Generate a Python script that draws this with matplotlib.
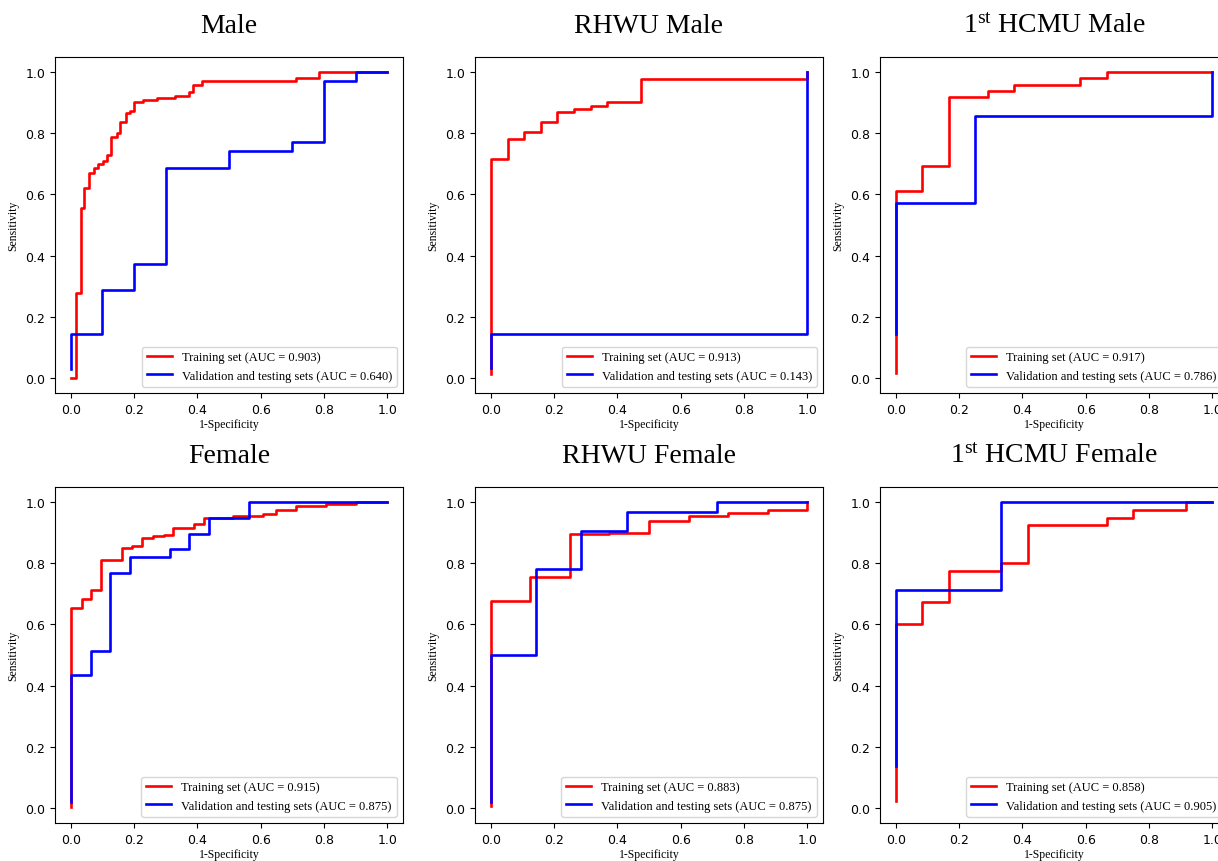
from matplotlib import pyplot as plt

plt.rcParams['mathtext.fontset'] = 'custom'
plt.rcParams['mathtext.rm'] = 'Liberation Serif'
plt.rcParams['mathtext.it'] = 'Liberation Serif:italic'

SERIF = 'Liberation Serif'

titles = ['Male', 'RHWU Male', r'1$^{\mathrm{st}}$ HCMU Male',
          'Female', 'RHWU Female', r'1$^{\mathrm{st}}$ HCMU Female']

# ROC corner points (step, where='post')
male_train_fpr = [0, 0.016, 0.031, 0.043, 0.058, 0.072, 0.086, 0.102, 0.115, 0.128, 0.145, 0.157,
                  0.173, 0.188, 0.2, 0.229, 0.271, 0.329, 0.372, 0.385, 0.414, 0.713, 0.785, 1.0]
male_train_tpr = [0, 0.279, 0.557, 0.622, 0.671, 0.688, 0.701, 0.709, 0.728, 0.787, 0.801, 0.837,
                  0.866, 0.874, 0.902, 0.908, 0.915, 0.923, 0.937, 0.959, 0.973, 0.98, 1.0, 1.0]
male_val_fpr = [0, 0, 0.1, 0.2, 0.3, 0.5, 0.7, 0.8, 0.9, 1.0]
male_val_tpr = [0.029, 0.143, 0.286, 0.371, 0.686, 0.743, 0.771, 0.971, 1.0, 1.0]

rhwu_male_train_fpr = [0, 0, 0.053, 0.105, 0.158, 0.21, 0.263, 0.316, 0.368, 0.474, 1.0]
rhwu_male_train_tpr = [0.011, 0.715, 0.782, 0.803, 0.836, 0.87, 0.879, 0.891, 0.903, 0.979, 1.0]
rhwu_male_val_fpr = [0, 0, 1.0]
rhwu_male_val_tpr = [0.033, 0.143, 1.0]

hcmu_male_train_fpr = [0, 0, 0.083, 0.167, 0.292, 0.375, 0.583, 0.667, 1.0]
hcmu_male_train_tpr = [0.016, 0.612, 0.694, 0.918, 0.939, 0.959, 0.98, 1.0, 1.0]
hcmu_male_val_fpr = [0, 0, 0.25, 1.0]
hcmu_male_val_tpr = [0.143, 0.571, 0.857, 1.0]

female_train_fpr = [0, 0, 0.034, 0.065, 0.095, 0.163, 0.193, 0.226, 0.259, 0.294, 0.324, 0.388,
                    0.421, 0.514, 0.609, 0.647, 0.712, 0.808, 0.903, 1.0]
female_train_tpr = [0.003, 0.655, 0.682, 0.714, 0.812, 0.85, 0.858, 0.883, 0.89, 0.893, 0.915, 0.929,
                    0.949, 0.954, 0.962, 0.975, 0.987, 0.995, 1.0, 1.0]
female_val_fpr = [0, 0, 0.0625, 0.125, 0.1875, 0.3125, 0.375, 0.4375, 0.5625, 1.0]
female_val_tpr = [0.02, 0.436, 0.513, 0.769, 0.821, 0.846, 0.897, 0.949, 1.0, 1.0]

rhwu_female_train_fpr = [0, 0, 0.125, 0.25, 0.375, 0.5, 0.625, 0.75, 0.875, 1.0]
rhwu_female_train_tpr = [0.007, 0.676, 0.755, 0.896, 0.9, 0.938, 0.954, 0.965, 0.974, 1.0]
rhwu_female_val_fpr = [0, 0, 0.143, 0.286, 0.429, 0.714, 1.0]
rhwu_female_val_tpr = [0.02, 0.5, 0.781, 0.906, 0.969, 1.0, 1.0]

hcmu_female_train_fpr = [0, 0, 0.083, 0.167, 0.333, 0.417, 0.667, 0.75, 0.917, 1.0]
hcmu_female_train_tpr = [0.022, 0.6, 0.675, 0.775, 0.8, 0.925, 0.95, 0.975, 1.0, 1.0]
hcmu_female_val_fpr = [0, 0, 0.333, 1.0]
hcmu_female_val_tpr = [0.136, 0.714, 1.0, 1.0]

train_auc = [0.903, 0.913, 0.917, 0.915, 0.883, 0.858]
val_auc = [0.640, 0.143, 0.786, 0.875, 0.875, 0.905]

curves = [
    (male_train_fpr, male_train_tpr, male_val_fpr, male_val_tpr),
    (rhwu_male_train_fpr, rhwu_male_train_tpr, rhwu_male_val_fpr, rhwu_male_val_tpr),
    (hcmu_male_train_fpr, hcmu_male_train_tpr, hcmu_male_val_fpr, hcmu_male_val_tpr),
    (female_train_fpr, female_train_tpr, female_val_fpr, female_val_tpr),
    (rhwu_female_train_fpr, rhwu_female_train_tpr, rhwu_female_val_fpr, rhwu_female_val_tpr),
    (hcmu_female_train_fpr, hcmu_female_train_tpr, hcmu_female_val_fpr, hcmu_female_val_tpr),
]

W, H = 1218, 862
fig = plt.figure(figsize=(W / 100, H / 100), dpi=100)

# the right column runs past the edge of the picture, as in the source
col_left = [55, 475, 880]
row_top = [58, 488]
aw, ah = 348, 336

for i, (tx, ty, vx, vy) in enumerate(curves):
    r, c = divmod(i, 3)
    ax = fig.add_axes([col_left[c] / W, 1 - (row_top[r] + ah) / H, aw / W, ah / H])
    ax.step(tx, ty, where='post', color='red', lw=1.9,
            label=f'Training set (AUC = {train_auc[i]:.3f})')
    ax.step(vx, vy, where='post', color='blue', lw=1.9,
            label=f'Validation and testing sets (AUC = {val_auc[i]:.3f})')
    ax.set_xlim(-0.05, 1.05)
    ax.set_ylim(-0.05, 1.05)
    ax.set_xticks([0, 0.2, 0.4, 0.6, 0.8, 1.0])
    ax.set_yticks([0, 0.2, 0.4, 0.6, 0.8, 1.0])
    ax.tick_params(labelsize=9)
    ax.set_xlabel('1-Specificity', fontfamily=SERIF, fontsize=8.5, labelpad=2)
    ax.set_ylabel('Sensitivity', fontfamily=SERIF, fontsize=8.5)
    ax.set_title(titles[i], fontfamily=SERIF, fontsize=20, pad=18)
    ax.legend(loc='lower right', prop={'family': SERIF, 'size': 9})

fig.savefig('out.png', dpi=100)
